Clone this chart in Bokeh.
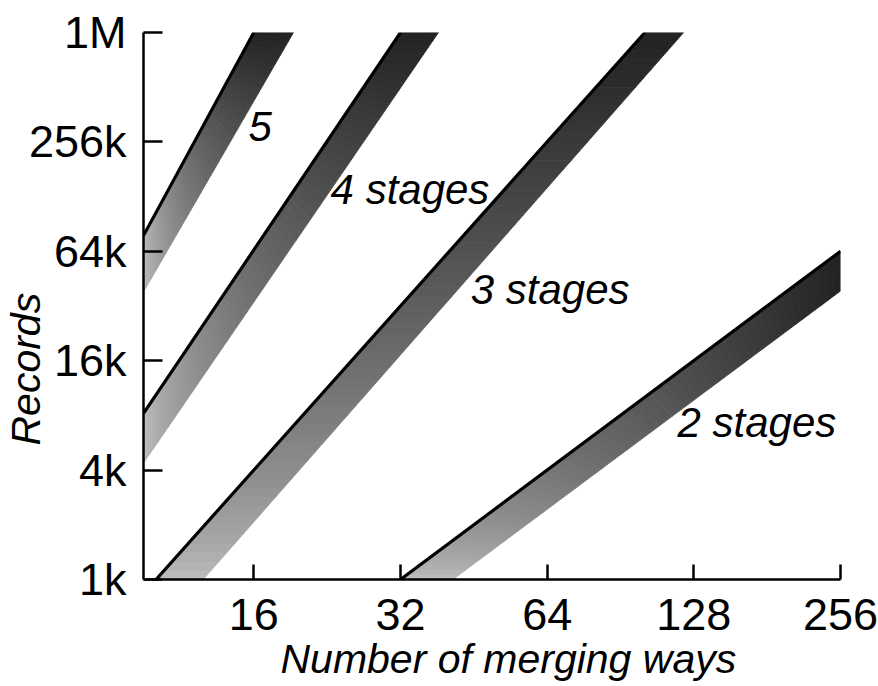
import math
from bokeh.plotting import figure
from bokeh.models import Range1d, FixedTicker, ColumnDataSource, Title
from bokeh.core.properties import value
from bokeh.embed import file_html
from bokeh.resources import INLINE

# ---------------- data ----------------
x_ticks = [16, 32, 64, 128, 256]
x_tick_labels = ["16", "32", "64", "128", "256"]
y_ticks = [1024, 4096, 16384, 65536, 262144, 1048576]
y_tick_labels = ["1k", "4k", "16k", "64k", "256k", "1M"]

stage_labels = ["2 stages", "3 stages", "4 stages", "5"]
# upper (solid black) edge of each band: start / end points (ways, records)
upper_start_ways = [32, 10.08, 9.5, 9.5]
upper_start_records = [1024, 1024, 8400, 80000]
upper_end_ways = [256, 101.6, 32, 16]
upper_end_records = [65536, 1048576, 1048576, 1048576]
# lower (shaded) edge of each band
lower_start_ways = [41.0, 12.6, 9.5, 9.5]
lower_start_records = [1024, 1024, 4470, 39100]
lower_end_ways = [256, 122.0, 38.3, 19.3]
lower_end_records = [39600, 1048576, 1048576, 1048576]
# stage label anchor points (left / baseline)
label_ways = [118.5, 44.6, 23.0, 15.6]
label_records = [7450, 40300, 144000, 319000]

FONT = "Liberation Sans"

p = figure(width=878, height=686, x_axis_type="log", y_axis_type="log",
           x_range=Range1d(9.5, 256), y_range=Range1d(1024, 1048576),
           output_backend="svg", toolbar_location=None,
           min_border_left=143, min_border_right=38,
           min_border_top=32, min_border_bottom=104)
p.outline_line_color = None
p.xgrid.visible = False
p.ygrid.visible = False
p.background_fill_color = "white"

# ---------------- shaded bands (gradient along the band) ----------------
N = 60
G0, G1 = 192, 34


def lerp_log(a, b, t):
    return math.exp(math.log(a) + (math.log(b) - math.log(a)) * t)


xs, ys, cols = [], [], []
for i in range(len(stage_labels)):
    for j in range(N):
        t0, t1 = j / N, (j + 1) / N
        ux0 = lerp_log(upper_start_ways[i], upper_end_ways[i], t0)
        uy0 = lerp_log(upper_start_records[i], upper_end_records[i], t0)
        ux1 = lerp_log(upper_start_ways[i], upper_end_ways[i], t1)
        uy1 = lerp_log(upper_start_records[i], upper_end_records[i], t1)
        lx0 = lerp_log(lower_start_ways[i], lower_end_ways[i], t0)
        ly0 = lerp_log(lower_start_records[i], lower_end_records[i], t0)
        lx1 = lerp_log(lower_start_ways[i], lower_end_ways[i], t1)
        ly1 = lerp_log(lower_start_records[i], lower_end_records[i], t1)
        xs.append([ux0, ux1, lx1, lx0])
        ys.append([uy0, uy1, ly1, ly0])
        tm = ((t0 + t1) / 2) ** 0.7
        g = int(round(G0 + (G1 - G0) * tm))
        cols.append("#%02x%02x%02x" % (g, g, g))

band_src = ColumnDataSource(dict(xs=xs, ys=ys, color=cols))
p.patches("xs", "ys", source=band_src, fill_color="color", line_color="color",
          line_width=0.8)

# solid upper edges
line_src = ColumnDataSource(dict(
    xs=[[upper_start_ways[i], upper_end_ways[i]] for i in range(len(stage_labels))],
    ys=[[upper_start_records[i], upper_end_records[i]] for i in range(len(stage_labels))],
))
p.multi_line("xs", "ys", source=line_src, line_color="black", line_width=3.2)

# stage labels
lab_src = ColumnDataSource(dict(x=label_ways, y=label_records, text=stage_labels))
p.text("x", "y", text="text", source=lab_src, text_font=value(FONT),
       text_font_style="italic", text_font_size=value("42px"),
       text_baseline="alphabetic", text_align="left", text_color="black")

# ---------------- axes ----------------
for ax in (p.xaxis[0], p.yaxis[0]):
    ax.axis_line_width = 2.5
    ax.axis_line_color = "black"
    ax.major_tick_line_width = 2.5
    ax.major_tick_line_color = "black"
    ax.minor_tick_line_color = None
    ax.major_tick_out = 0
    ax.major_label_text_font = FONT
    ax.major_label_text_font_size = "45px"
    ax.major_label_text_color = "black"

p.xaxis.ticker = FixedTicker(ticks=x_ticks)
p.xaxis.major_label_overrides = {t: l for t, l in zip(x_ticks, x_tick_labels)}
p.xaxis.major_tick_in = 15
p.xaxis.major_label_standoff = 19

p.yaxis.ticker = FixedTicker(ticks=y_ticks)
p.yaxis.major_label_overrides = {t: l for t, l in zip(y_ticks, y_tick_labels)}
p.yaxis.major_tick_in = 19
p.yaxis.major_label_standoff = 17

# axis titles (as side-panel titles so they can be offset like the original)
p.add_layout(Title(text="Records", align="left", vertical_align="bottom",
                   offset=134, standoff=-46, text_font=FONT,
                   text_font_style="italic", text_font_size="41px",
                   text_color="black"), "left")
p.add_layout(Title(text="Number of merging ways", align="left",
                   vertical_align="top", offset=137, standoff=6,
                   text_font=FONT, text_font_style="italic",
                   text_font_size="41px", text_color="black"), "below")

open("out.html", "w").write(file_html(p, INLINE))
